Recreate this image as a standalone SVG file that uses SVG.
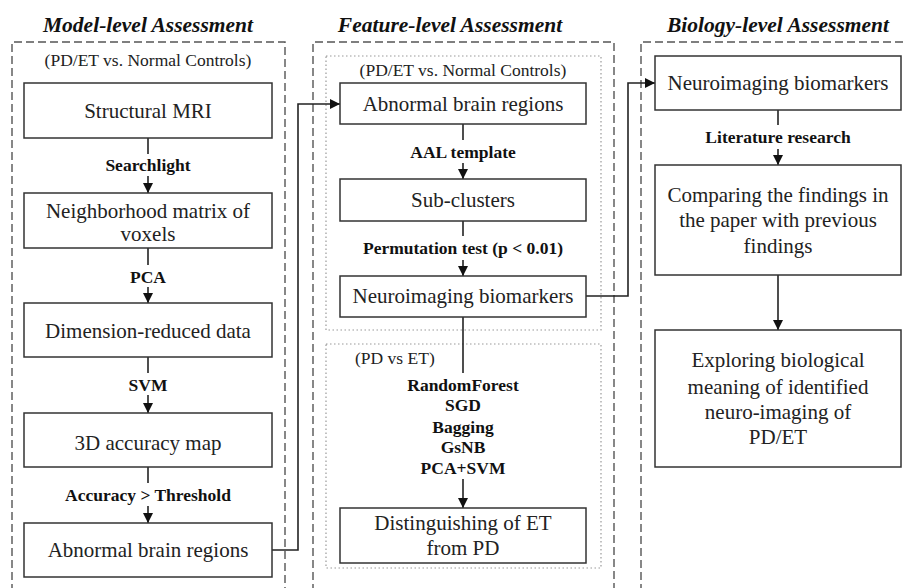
<svg xmlns="http://www.w3.org/2000/svg" width="903" height="588" viewBox="0 0 903 588">
<style>
text{font-family:'Liberation Serif','Times New Roman',Times,'DejaVu Serif',serif}
.title{font-size:21.5px;font-weight:bold;font-style:italic;fill:#111;text-anchor:middle}
.sub{font-size:17.5px;fill:#222;text-anchor:middle}
.box{fill:#fff;stroke:#333;stroke-width:1.5}
.bt{font-size:21px;fill:#222;text-anchor:middle}
.lab{font-size:17.5px;font-weight:bold;fill:#111;text-anchor:middle}
.dash{fill:none;stroke:#555;stroke-width:1.4;stroke-dasharray:8 4}
.dot{fill:none;stroke:#999;stroke-width:1.2;stroke-dasharray:1.5 2.5}
.ln{fill:none;stroke:#222;stroke-width:1.6}
</style>
<defs>
<marker id="ah" viewBox="0 0 10 10" refX="10" refY="5" markerWidth="10" markerHeight="10" markerUnits="userSpaceOnUse" orient="auto">
<path d="M0,0 L10,5 L0,10 Z" fill="#111"/>
</marker>
</defs>
<rect width="903" height="588" fill="#fff"/>

<g id="containers">
<text class="title" x="148" y="32">Model-level Assessment</text>
<text class="title" x="450" y="32">Feature-level Assessment</text>
<text class="title" x="778" y="32">Biology-level Assessment</text>
<path class="dash" d="M12,592 V42 H285 V592"/>
<path class="dash" d="M313,592 V42 H614 V592"/>
<path class="dash" d="M641,592 V42 H906"/>
<rect class="dot" x="326" y="56" width="275" height="274"/>
<rect class="dot" x="326" y="344" width="275" height="224"/>
<text class="sub" x="148" y="66">(PD/ET vs. Normal Controls)</text>
<text class="sub" x="463" y="76">(PD/ET vs. Normal Controls)</text>
<text class="sub" x="355" y="364" style="text-anchor:start">(PD vs ET)</text>
</g>

<g id="connectors">
<path class="ln" d="M148,138 V154"/><path class="ln" d="M148,176 V193" marker-end="url(#ah)"/>
<path class="ln" d="M148,248 V265"/><path class="ln" d="M148,287 V303" marker-end="url(#ah)"/>
<path class="ln" d="M148,357 V373"/><path class="ln" d="M148,395 V413" marker-end="url(#ah)"/>
<path class="ln" d="M148,467 V483"/><path class="ln" d="M148,506 V523" marker-end="url(#ah)"/>
<path class="ln" d="M272,550 H298 V104 H340" marker-end="url(#ah)"/>
<path class="ln" d="M463,124 V140"/><path class="ln" d="M463,163 V179" marker-end="url(#ah)"/>
<path class="ln" d="M463,221 V236"/><path class="ln" d="M463,260 V276" marker-end="url(#ah)"/>
<path class="ln" d="M463,317 V373"/><path class="ln" d="M463,479 V508" marker-end="url(#ah)"/>
<path class="ln" d="M586,296 H628 V83 H655" marker-end="url(#ah)"/>
<path class="ln" d="M778,110 V125"/><path class="ln" d="M778,149 V165" marker-end="url(#ah)"/>
<path class="ln" d="M778,275 V330" marker-end="url(#ah)"/>
<text class="lab" x="148" y="171">Searchlight</text>
<text class="lab" x="148" y="283">PCA</text>
<text class="lab" x="148" y="391">SVM</text>
<text class="lab" x="148" y="501">Accuracy &gt; Threshold</text>
<text class="lab" x="463" y="158">AAL template</text>
<text class="lab" x="463" y="254">Permutation test (p &lt; 0.01)</text>
<text class="lab" x="463" y="391">RandomForest</text>
<text class="lab" x="463" y="411">SGD</text>
<text class="lab" x="463" y="433">Bagging</text>
<text class="lab" x="463" y="453">GsNB</text>
<text class="lab" x="463" y="474">PCA+SVM</text>
<text class="lab" x="778" y="143">Literature research</text>
</g>

<g id="n1"><rect class="box" x="24" y="83" width="248" height="55"/><text class="bt" x="148" y="118">Structural MRI</text></g>
<g id="n2"><rect class="box" x="24" y="193" width="248" height="55"/><text class="bt" x="148" y="218">Neighborhood matrix of</text><text class="bt" x="148" y="241">voxels</text></g>
<g id="n3"><rect class="box" x="24" y="303" width="248" height="54"/><text class="bt" x="148" y="338">Dimension-reduced data</text></g>
<g id="n4"><rect class="box" x="24" y="413" width="248" height="54"/><text class="bt" x="148" y="450">3D accuracy map</text></g>
<g id="n5"><rect class="box" x="24" y="523" width="248" height="54"/><text class="bt" x="148" y="557">Abnormal brain regions</text></g>

<g id="n6"><rect class="box" x="340" y="83" width="246" height="41"/><text class="bt" x="463" y="111">Abnormal brain regions</text></g>
<g id="n7"><rect class="box" x="340" y="179" width="246" height="42"/><text class="bt" x="463" y="207">Sub-clusters</text></g>
<g id="n8"><rect class="box" x="340" y="276" width="246" height="41"/><text class="bt" x="463" y="303">Neuroimaging biomarkers</text></g>
<g id="n9"><rect class="box" x="340" y="508" width="246" height="55"/><text class="bt" x="463" y="530">Distinguishing of ET</text><text class="bt" x="463" y="555">from PD</text></g>

<g id="n10"><rect class="box" x="655" y="56" width="246" height="54"/><text class="bt" x="778" y="90">Neuroimaging biomarkers</text></g>
<g id="n11"><rect class="box" x="655" y="165" width="246" height="110"/><text class="bt" x="778" y="202">Comparing the findings in</text><text class="bt" x="778" y="227">the paper with previous</text><text class="bt" x="778" y="253">findings</text></g>
<g id="n12"><rect class="box" x="655" y="330" width="246" height="137"/><text class="bt" x="778" y="367">Exploring biological</text><text class="bt" x="778" y="394">meaning of identified</text><text class="bt" x="778" y="419">neuro-imaging of</text><text class="bt" x="778" y="444">PD/ET</text></g>
</svg>
